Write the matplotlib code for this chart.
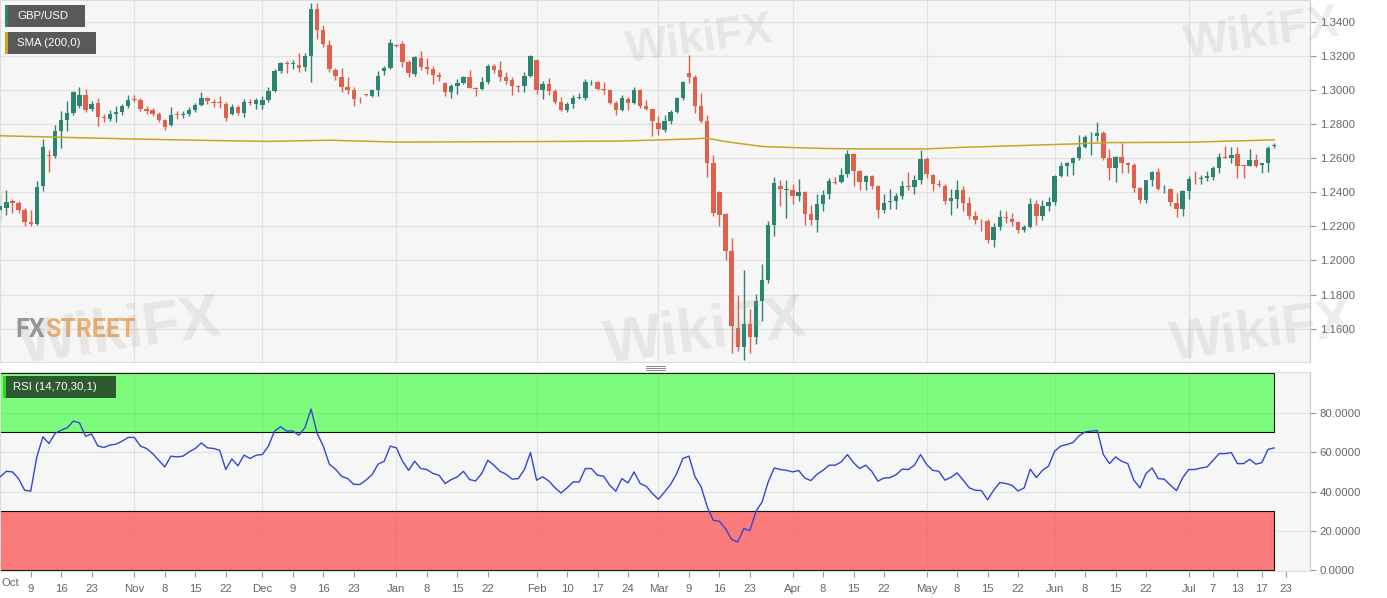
import matplotlib
matplotlib.use('Agg')
import matplotlib.pyplot as plt
from matplotlib.patches import Rectangle
from matplotlib.lines import Line2D
import numpy as np
import pandas as pd

plt.rcParams['font.family'] = ['Liberation Sans', 'DejaVu Sans']

# daily GBP/USD candles, one per weekday from 2019-10-02 to 2020-07-21
start_date = '2019-10-02'

opens = [1.2294, 1.2308, 1.2347, 1.2337, 1.2294, 1.2224, 1.2216, 1.2435, 1.2620, 1.2610,
         1.2760, 1.2821, 1.2864, 1.2907, 1.2971, 1.2887, 1.2922, 1.2844, 1.2831, 1.2860,
         1.2868, 1.2907, 1.2946, 1.2942, 1.2889, 1.2883, 1.2858, 1.2821, 1.2796, 1.2858,
         1.2854, 1.2858, 1.2883, 1.2912, 1.2951, 1.2930, 1.2930, 1.2918, 1.2860, 1.2899,
         1.2864, 1.2930, 1.2916, 1.2912, 1.2942, 1.2996, 1.3111, 1.3160, 1.3150, 1.3145,
         1.3133, 1.3201, 1.3472, 1.3351, 1.3264, 1.3117, 1.3078, 1.3016, 1.3001, 1.2943,
         1.2974, 1.2967, 1.3000, 1.3108, 1.3127, 1.3262, 1.3268, 1.3166, 1.3094, 1.3187,
         1.3133, 1.3123, 1.3088, 1.3041, 1.2987, 1.3020, 1.3039, 1.3074, 1.3010, 1.3006,
         1.3045, 1.3142, 1.3117, 1.3074, 1.3059, 1.3020, 1.3020, 1.3084, 1.3177, 1.2997,
         1.3032, 1.2993, 1.2929, 1.2885, 1.2915, 1.2952, 1.2954, 1.3045, 1.3045, 1.3003,
         1.2997, 1.2923, 1.2881, 1.2948, 1.2923, 1.3001, 1.2904, 1.2886, 1.2804, 1.2765,
         1.2820, 1.2873, 1.2951, 1.3097, 1.3073, 1.2906, 1.2818, 1.2574, 1.2399, 1.2274,
         1.2058, 1.1606, 1.1493, 1.1625, 1.1551, 1.1762, 1.1884, 1.2210, 1.2434, 1.2412,
         1.2415, 1.2376, 1.2399, 1.2272, 1.2235, 1.2333, 1.2391, 1.2460, 1.2457, 1.2508,
         1.2625, 1.2522, 1.2457, 1.2496, 1.2438, 1.2298, 1.2343, 1.2346, 1.2376, 1.2436,
         1.2430, 1.2473, 1.2594, 1.2502, 1.2446, 1.2438, 1.2346, 1.2360, 1.2415, 1.2337,
         1.2263, 1.2237, 1.2230, 1.2122, 1.2196, 1.2253, 1.2243, 1.2224, 1.2177, 1.2196,
         1.2333, 1.2263, 1.2321, 1.2341, 1.2496, 1.2551, 1.2574, 1.2599, 1.2668, 1.2728,
         1.2730, 1.2749, 1.2599, 1.2541, 1.2605, 1.2574, 1.2561, 1.2424, 1.2352, 1.2469,
         1.2520, 1.2416, 1.2418, 1.2337, 1.2302, 1.2405, 1.2479, 1.2475, 1.2483, 1.2492,
         1.2541, 1.2609, 1.2603, 1.2625, 1.2557, 1.2555, 1.2590, 1.2559, 1.2570, 1.2672]

highs = [1.2395, 1.2412, 1.2361, 1.2347, 1.2308, 1.2294, 1.2464, 1.2712, 1.2649, 1.2796,
         1.2879, 1.2932, 1.2996, 1.3016, 1.3004, 1.2935, 1.2950, 1.2858, 1.2880, 1.2903,
         1.2920, 1.2971, 1.2971, 1.2950, 1.2905, 1.2895, 1.2870, 1.2830, 1.2899, 1.2875,
         1.2875, 1.2898, 1.2925, 1.2985, 1.2960, 1.2945, 1.2965, 1.2930, 1.2915, 1.2910,
         1.2945, 1.2945, 1.2955, 1.2965, 1.3015, 1.3120, 1.3165, 1.3168, 1.3175, 1.3215,
         1.3215, 1.3511, 1.3511, 1.3380, 1.3290, 1.3128, 1.3128, 1.3074, 1.3016, 1.2958,
         1.2978, 1.3005, 1.3112, 1.3140, 1.3299, 1.3270, 1.3284, 1.3175, 1.3200, 1.3226,
         1.3187, 1.3142, 1.3103, 1.3045, 1.3035, 1.3064, 1.3084, 1.3117, 1.3015, 1.3078,
         1.3152, 1.3152, 1.3171, 1.3103, 1.3074, 1.3026, 1.3103, 1.3206, 1.3181, 1.3055,
         1.3068, 1.3006, 1.2958, 1.2929, 1.2968, 1.2983, 1.3064, 1.3061, 1.3051, 1.3045,
         1.3006, 1.2935, 1.2968, 1.2958, 1.3016, 1.3006, 1.2938, 1.2890, 1.2846, 1.2850,
         1.2881, 1.2958, 1.3055, 1.3204, 1.3087, 1.2980, 1.2853, 1.2619, 1.2405, 1.2278,
         1.2132, 1.1795, 1.1943, 1.1717, 1.1801, 1.1976, 1.2229, 1.2489, 1.2469, 1.2469,
         1.2450, 1.2477, 1.2405, 1.2327, 1.2391, 1.2415, 1.2483, 1.2489, 1.2541, 1.2645,
         1.2629, 1.2531, 1.2502, 1.2502, 1.2444, 1.2391, 1.2418, 1.2395, 1.2463, 1.2516,
         1.2502, 1.2648, 1.2606, 1.2508, 1.2469, 1.2450, 1.2418, 1.2473, 1.2438, 1.2372,
         1.2288, 1.2243, 1.2243, 1.2220, 1.2298, 1.2288, 1.2278, 1.2230, 1.2210, 1.2366,
         1.2356, 1.2352, 1.2372, 1.2502, 1.2580, 1.2580, 1.2609, 1.2736, 1.2736, 1.2755,
         1.2814, 1.2761, 1.2652, 1.2610, 1.2687, 1.2580, 1.2570, 1.2430, 1.2473, 1.2525,
         1.2541, 1.2444, 1.2424, 1.2395, 1.2410, 1.2496, 1.2527, 1.2502, 1.2522, 1.2551,
         1.2629, 1.2671, 1.2664, 1.2668, 1.2561, 1.2652, 1.2625, 1.2574, 1.2671, 1.2687]

lows = [1.2230, 1.2269, 1.2279, 1.2279, 1.2201, 1.2201, 1.2205, 1.2406, 1.2517, 1.2601,
        1.2659, 1.2757, 1.2854, 1.2893, 1.2868, 1.2875, 1.2786, 1.2810, 1.2820, 1.2809,
        1.2850, 1.2893, 1.2930, 1.2875, 1.2860, 1.2845, 1.2810, 1.2765, 1.2790, 1.2830,
        1.2835, 1.2845, 1.2870, 1.2905, 1.2920, 1.2900, 1.2893, 1.2820, 1.2850, 1.2850,
        1.2840, 1.2910, 1.2890, 1.2890, 1.2930, 1.2990, 1.3100, 1.3100, 1.3120, 1.3105,
        1.3110, 1.3049, 1.3300, 1.3250, 1.3104, 1.3059, 1.2987, 1.2977, 1.2904, 1.2923,
        1.2965, 1.2960, 1.2967, 1.3090, 1.3121, 1.3250, 1.3133, 1.3074, 1.3084, 1.3114,
        1.3094, 1.3036, 1.3055, 1.2962, 1.2954, 1.2977, 1.3032, 1.3010, 1.2962, 1.2997,
        1.3035, 1.3097, 1.3055, 1.3036, 1.2973, 1.2987, 1.2987, 1.3074, 1.2977, 1.2948,
        1.2973, 1.2919, 1.2877, 1.2871, 1.2896, 1.2948, 1.2942, 1.3026, 1.2997, 1.2977,
        1.2915, 1.2852, 1.2877, 1.2884, 1.2919, 1.2896, 1.2881, 1.2730, 1.2735, 1.2755,
        1.2800, 1.2865, 1.2940, 1.3038, 1.2863, 1.2804, 1.2492, 1.2259, 1.2200, 1.2005,
        1.1456, 1.1469, 1.1417, 1.1456, 1.1508, 1.1645, 1.1869, 1.2142, 1.2317, 1.2249,
        1.2333, 1.2346, 1.2210, 1.2210, 1.2165, 1.2288, 1.2360, 1.2450, 1.2453, 1.2492,
        1.2434, 1.2411, 1.2411, 1.2418, 1.2249, 1.2278, 1.2302, 1.2302, 1.2360, 1.2415,
        1.2391, 1.2450, 1.2483, 1.2405, 1.2430, 1.2333, 1.2268, 1.2307, 1.2288, 1.2245,
        1.2215, 1.2171, 1.2103, 1.2080, 1.2177, 1.2220, 1.2200, 1.2161, 1.2165, 1.2191,
        1.2210, 1.2239, 1.2288, 1.2327, 1.2492, 1.2496, 1.2502, 1.2590, 1.2658, 1.2619,
        1.2703, 1.2590, 1.2473, 1.2457, 1.2513, 1.2513, 1.2399, 1.2337, 1.2337, 1.2438,
        1.2414, 1.2395, 1.2317, 1.2255, 1.2263, 1.2360, 1.2450, 1.2450, 1.2463, 1.2469,
        1.2512, 1.2599, 1.2570, 1.2483, 1.2483, 1.2551, 1.2547, 1.2512, 1.2516, 1.2662]

closes = [1.2318, 1.2343, 1.2337, 1.2294, 1.2224, 1.2216, 1.2431, 1.2665, 1.2614, 1.2760,
          1.2821, 1.2864, 1.2987, 1.2971, 1.2883, 1.2920, 1.2840, 1.2835, 1.2860, 1.2868,
          1.2903, 1.2942, 1.2940, 1.2889, 1.2879, 1.2860, 1.2825, 1.2780, 1.2854, 1.2852,
          1.2860, 1.2883, 1.2912, 1.2951, 1.2932, 1.2926, 1.2926, 1.2835, 1.2899, 1.2864,
          1.2930, 1.2926, 1.2938, 1.2942, 1.2996, 1.3111, 1.3156, 1.3150, 1.3155, 1.3127,
          1.3201, 1.3472, 1.3351, 1.3268, 1.3123, 1.3084, 1.3016, 1.3001, 1.2944, 1.2939,
          1.2970, 1.3000, 1.3083, 1.3127, 1.3276, 1.3256, 1.3166, 1.3098, 1.3191, 1.3133,
          1.3123, 1.3088, 1.3074, 1.2987, 1.3020, 1.3039, 1.3074, 1.3012, 1.3006, 1.3045,
          1.3142, 1.3117, 1.3074, 1.3055, 1.3022, 1.3016, 1.3084, 1.3200, 1.2997, 1.3032,
          1.2993, 1.2929, 1.2881, 1.2915, 1.2954, 1.2956, 1.3045, 1.3049, 1.3003, 1.2997,
          1.2923, 1.2881, 1.2954, 1.2923, 1.3001, 1.2904, 1.2890, 1.2819, 1.2769, 1.2820,
          1.2873, 1.2951, 1.3048, 1.3077, 1.2906, 1.2818, 1.2574, 1.2278, 1.2268, 1.2058,
          1.1615, 1.1493, 1.1625, 1.1551, 1.1762, 1.1884, 1.2210, 1.2454, 1.2418, 1.2416,
          1.2376, 1.2399, 1.2272, 1.2235, 1.2333, 1.2385, 1.2463, 1.2455, 1.2502, 1.2625,
          1.2522, 1.2457, 1.2496, 1.2438, 1.2298, 1.2337, 1.2347, 1.2376, 1.2434, 1.2432,
          1.2473, 1.2594, 1.2508, 1.2450, 1.2442, 1.2346, 1.2366, 1.2415, 1.2337, 1.2263,
          1.2235, 1.2235, 1.2122, 1.2196, 1.2255, 1.2249, 1.2224, 1.2177, 1.2196, 1.2333,
          1.2263, 1.2321, 1.2341, 1.2496, 1.2551, 1.2574, 1.2599, 1.2668, 1.2726, 1.2732,
          1.2745, 1.2599, 1.2541, 1.2605, 1.2574, 1.2561, 1.2424, 1.2352, 1.2469, 1.2520,
          1.2418, 1.2420, 1.2341, 1.2302, 1.2405, 1.2477, 1.2475, 1.2483, 1.2496, 1.2541,
          1.2609, 1.2603, 1.2619, 1.2555, 1.2553, 1.2590, 1.2555, 1.2570, 1.2662, 1.2675]

rsi = [47.5, 50.3, 50.0, 46.6, 40.7, 40.2, 57.6, 67.8, 64.4, 69.5,
       71.2, 72.4, 75.8, 74.9, 68.1, 69.2, 63.2, 62.4, 63.6, 64.1,
       65.6, 67.5, 67.5, 63.1, 61.9, 59.3, 55.9, 52.5, 58.0, 57.6,
       58.0, 60.2, 61.9, 64.7, 62.2, 61.9, 61.0, 51.2, 56.6, 53.1,
       58.5, 56.8, 58.5, 58.8, 63.1, 70.7, 72.9, 70.7, 70.8, 68.6,
       72.5, 81.9, 69.5, 63.1, 53.9, 51.4, 47.8, 46.6, 43.7, 43.6,
       45.8, 48.6, 53.9, 55.4, 63.1, 62.2, 55.4, 50.8, 55.4, 51.7,
       51.2, 49.2, 48.3, 44.1, 46.1, 47.5, 50.3, 46.1, 45.4, 49.2,
       55.9, 53.4, 50.3, 48.8, 46.3, 46.6, 51.2, 59.8, 45.8, 47.5,
       45.4, 42.0, 39.3, 41.9, 44.9, 44.9, 51.7, 51.7, 48.3, 47.8,
       43.2, 40.2, 46.6, 44.4, 50.0, 44.1, 42.7, 39.0, 36.1, 39.8,
       43.7, 49.2, 56.8, 58.0, 47.5, 42.4, 32.2, 25.4, 24.9, 21.2,
       15.8, 14.4, 21.2, 20.3, 30.0, 34.7, 44.9, 52.0, 51.2, 50.8,
       50.0, 50.7, 46.9, 45.6, 48.8, 50.8, 53.4, 53.4, 55.1, 58.8,
       54.7, 51.7, 53.4, 50.3, 45.3, 46.9, 47.1, 48.6, 51.4, 51.2,
       53.4, 58.8, 53.7, 50.8, 50.3, 45.8, 47.3, 49.5, 45.8, 41.9,
       40.7, 40.5, 35.8, 40.7, 44.6, 44.1, 43.2, 40.3, 41.9, 51.4,
       47.1, 50.8, 52.9, 60.5, 63.1, 63.9, 64.9, 68.3, 70.3, 70.7,
       71.0, 58.8, 54.2, 57.6, 55.4, 54.2, 45.8, 41.9, 49.2, 52.0,
       46.6, 46.3, 43.2, 40.5, 47.0, 51.2, 51.2, 52.0, 52.5, 55.9,
       59.3, 59.3, 59.8, 54.2, 54.2, 56.4, 53.9, 54.7, 61.4, 62.2]

sma_dates = ['2019-10-02', '2019-10-16', '2019-11-01', '2019-11-20', '2019-12-03',
             '2019-12-17', '2020-01-01', '2020-02-03', '2020-02-21', '2020-03-09',
             '2020-03-12', '2020-03-17', '2020-03-25', '2020-04-01', '2020-04-09',
             '2020-04-16', '2020-05-01', '2020-05-08', '2020-05-20', '2020-06-04',
             '2020-06-12', '2020-07-01', '2020-07-21']
sma_values = [1.2731, 1.2722, 1.2712, 1.2703, 1.2698,
              1.2705, 1.2694, 1.2697, 1.2700, 1.2712,
              1.2717, 1.2697, 1.2668, 1.2662, 1.2656,
              1.2654, 1.2654, 1.2662, 1.2671, 1.2683,
              1.2691, 1.2693, 1.2707]

tick_dates = ['2019-10-09', '2019-10-16', '2019-10-23', '2019-11-01', '2019-11-08',
              '2019-11-15', '2019-11-22', '2019-12-02', '2019-12-09', '2019-12-16',
              '2019-12-23', '2020-01-01', '2020-01-08', '2020-01-15', '2020-01-22',
              '2020-02-03', '2020-02-10', '2020-02-17', '2020-02-24', '2020-03-02',
              '2020-03-09', '2020-03-16', '2020-03-23', '2020-04-01', '2020-04-08',
              '2020-04-15', '2020-04-22', '2020-05-01', '2020-05-08', '2020-05-15',
              '2020-05-22', '2020-06-01', '2020-06-08', '2020-06-15', '2020-06-22',
              '2020-07-01', '2020-07-07', '2020-07-13', '2020-07-17', '2020-07-23']
tick_labels = ['9', '16', '23', 'Nov', '8', '15', '22', 'Dec', '9', '16',
               '23', 'Jan', '8', '15', '22', 'Feb', '10', '17', '24', 'Mar',
               '9', '16', '23', 'Apr', '8', '15', '22', 'May', '8', '15',
               '22', 'Jun', '8', '15', '22', 'Jul', '7', '13', '17', '23']
month_dates = ['2019-11-01', '2019-12-02', '2020-01-01', '2020-02-03', '2020-03-02',
               '2020-04-01', '2020-05-01', '2020-06-01', '2020-07-01']

price_ticks = [1.16, 1.18, 1.20, 1.22, 1.24, 1.26, 1.28, 1.30, 1.32, 1.34]
rsi_ticks = [0, 20, 40, 60, 80]

W, H = 1387, 598
up_color = '#2b8570'
down_color = '#e0604b'
bg = '#f6f6f6'
grid_color = '#e1e1e1'
text_color = '#666666'

days = pd.bdate_range(start_date, '2020-07-31')


def pos(d):
    return days.get_loc(pd.Timestamp(d))


def fx(px):
    return px / W


def fy(py):
    return 1 - py / H


fig = plt.figure(figsize=(W / 100, H / 100), dpi=100)
fig.patch.set_facecolor('white')

ax = fig.add_axes([0, fy(362), fx(1310), fy(0) - fy(362)])
ax2 = fig.add_axes([0, fy(571), fx(1310), fy(372) - fy(571)])

x = np.arange(len(closes))
o = np.array(opens)
h = np.array(highs)
l = np.array(lows)
c = np.array(closes)
colors = [up_color if cc >= oo else down_color for oo, cc in zip(o, c)]
x_left, x_right = -0.04, 214.9

# price panel
ax.set_facecolor(bg)
for p in price_ticks:
    ax.axhline(p, color=grid_color, lw=0.9, zorder=0)
for d in month_dates:
    ax.axvline(pos(d), color=grid_color, lw=0.9, zorder=0)
ax.vlines(x, l, h, colors=colors, lw=1.0, zorder=2)
body_h = np.maximum(np.abs(c - o), 0.0004)
ax.bar(x, body_h, bottom=np.minimum(o, c), width=0.72, color=colors, lw=0, zorder=3)
sma_x = [pos(d) for d in sma_dates]
ax.plot(sma_x, sma_values, color='#c9a424', lw=1.1, zorder=4)
ax.set_xlim(x_left, x_right)
ax.set_ylim(1.14041, 1.35273)
ax.yaxis.tick_right()
ax.set_yticks(price_ticks)
ax.set_yticklabels(['%.4f' % p for p in price_ticks])
ax.set_xticks([])
ax.tick_params(axis='y', length=4, width=0.8, color='#999999', pad=3,
               labelsize=8.2, labelcolor=text_color)
for side in ['left', 'top', 'bottom']:
    ax.spines[side].set_color('#dddddd')
ax.spines['right'].set_color('#c8c8c8')

# rsi panel
ax2.set_facecolor(bg)
n_last = len(rsi) - 1
ax2.add_patch(Rectangle((x_left, 70), n_last - x_left, 30, facecolor='#7dfb7d',
                        edgecolor='#111111', lw=0.8, zorder=1))
ax2.add_patch(Rectangle((x_left, 0), n_last - x_left, 30, facecolor='#fb7b7b',
                        edgecolor='#111111', lw=0.8, zorder=1))
for r in [20, 40, 60, 80]:
    ax2.axhline(r, color='#888888', lw=0.8, alpha=0.18, zorder=2)
for d in month_dates:
    ax2.axvline(pos(d), color='#888888', lw=0.8, alpha=0.18, zorder=2)
ax2.plot(x, rsi, color='#3247d0', lw=1.0, zorder=4)
ax2.set_xlim(x_left, x_right)
ax2.set_ylim(-0.3, 100.7)
ax2.yaxis.tick_right()
ax2.set_yticks(rsi_ticks)
ax2.set_yticklabels(['%.4f' % r for r in rsi_ticks])
ax2.set_xticks([pos(d) for d in tick_dates])
ax2.set_xticklabels(tick_labels)
ax2.tick_params(axis='both', length=4, width=0.8, color='#999999', pad=3,
                labelsize=8.2, labelcolor=text_color)
ax2.tick_params(axis='x', pad=5)
for side in ['left', 'top', 'bottom']:
    ax2.spines[side].set_color('#dddddd')
ax2.spines['right'].set_color('#c8c8c8')
fig.text(fx(1), fy(583), 'Oct', ha='left', va='center', fontsize=8.2, color=text_color)

# handle between panels
for yy in [366, 368, 370]:
    fig.add_artist(Line2D([fx(646), fx(665)], [fy(yy), fy(yy)], color='#888888', lw=0.7))


# legend boxes
def label_box(x0, y0, x1, y1, fill, bar, text, tx):
    fig.add_artist(Rectangle((fx(x0), fy(y1)), fx(x1 - x0), fy(y0) - fy(y1),
                             transform=fig.transFigure, facecolor=fill, lw=0, zorder=10))
    fig.add_artist(Rectangle((fx(x0), fy(y1)), fx(2.5), fy(y0) - fy(y1),
                             transform=fig.transFigure, facecolor=bar, lw=0, zorder=11))
    fig.text(fx(tx), fy((y0 + y1) / 2), text, color='white', fontsize=8.2,
             ha='left', va='center', zorder=12)


label_box(5, 5, 85, 27, '#595959', up_color, 'GBP/USD', 17)
label_box(5, 32, 96, 54, '#595959', '#c9a424', 'SMA (200,0)', 17)
label_box(3, 376, 116, 398, '#2e5a30', '#22dd22', 'RSI (14,70,30,1)', 13)

# FXStreet logo: "STREET" placed right after the measured width of "FX"
renderer = fig.canvas.get_renderer()
fx_text = fig.text(fx(15), fy(330), 'FX', color='#8c8c8c', fontsize=18, fontweight='bold',
                   family='Roboto', ha='left', va='center', alpha=0.9)
fx_box = fx_text.get_window_extent(renderer)
fig.text(fx(fx_box.x1 + 0.5), fy(330), 'STREET', color='#e9a865', fontsize=18,
         fontweight='bold', family='Roboto', ha='left', va='center', alpha=0.9)

# watermarks
for wx, wy, size in [(120, 333, 44), (705, 333, 44), (1262, 333, 40),
                     (700, 40, 32), (1262, 34, 34)]:
    fig.text(fx(wx), fy(wy), 'WikiFX', color='#9c918b', alpha=0.16, fontsize=size,
             fontweight='bold', ha='center', va='center', rotation=8, zorder=20)

fig.savefig('out.png', dpi=100)
